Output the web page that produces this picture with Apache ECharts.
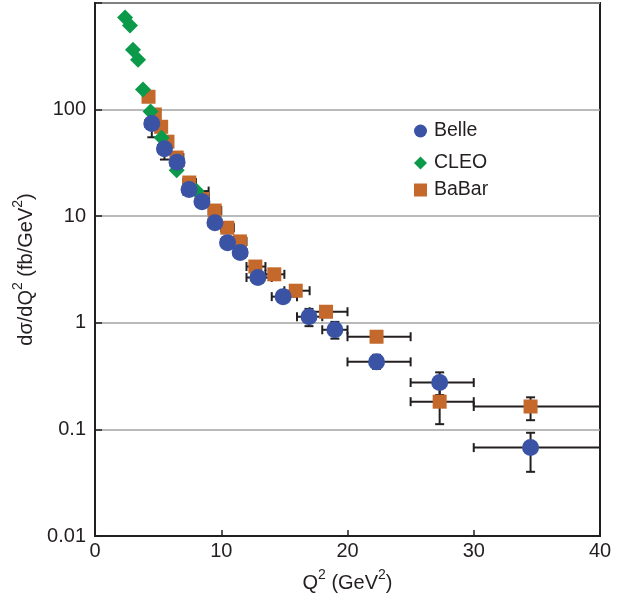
<!DOCTYPE html>
<html>
<head>
<meta charset="utf-8">
<script src="https://cdn.jsdelivr.net/npm/echarts@6/dist/echarts.min.js"></script>
<style>
html,body{margin:0;padding:0;background:#fff;}
#c{width:631px;height:605px;}
</style>
</head>
<body>
<div id="c"></div>
<script>
// ---- data ----
const xTickLabels = ['0', '10', '20', '30', '40'];
const yTickLabels = ['0.01', '0.1', '1', '10', '100', ''];

const belleX   = [4.5, 5.5, 6.5, 7.45, 8.47, 9.5, 10.5, 11.5, 12.9, 14.9, 16.95, 19.0, 22.3, 27.3, 34.5];
const belleY   = [74, 43, 32, 17.8, 13.7, 8.7, 5.65, 4.56, 2.66, 1.76, 1.14, 0.86, 0.43, 0.275, 0.0675];
const belleXLo = [4, 5, 6, 7, 8, 9, 10, 11, 12, 14, 16, 18, 20, 25, 30];
const belleXHi = [5, 6, 7, 8, 9, 10, 11, 12, 14, 16, 18, 20, 25, 30, 40];
const belleYLo = [55, 34, 28, 16, 12.4, 7.9, 5.1, 4.1, 2.4, 1.57, 0.93, 0.71, 0.37, 0.21, 0.040];
const belleYHi = [93, 52, 36, 19.8, 15, 9.6, 6.2, 5.0, 2.95, 1.97, 1.35, 1.02, 0.5, 0.343, 0.093];

const cleoX   = [2.38, 2.77, 3.01, 3.41, 3.80, 4.40, 5.28, 6.47, 8.05];
const cleoY   = [730, 614, 365, 294, 154, 96, 54.5, 27, 17.2];
const cleoXLo = [2.38, 2.77, 3.01, 3.41, 3.80, 4.40, 5.28, 6.47, 7];
const cleoXHi = [2.38, 2.77, 3.01, 3.41, 3.80, 4.40, 5.28, 6.47, 9];

const babarX   = [4.24, 4.74, 5.24, 5.74, 6.47, 7.47, 8.48, 9.48, 10.48, 11.48, 12.7, 14.2, 15.9, 18.3, 22.3, 27.3, 34.5];
const babarY   = [132, 90, 69, 50, 35.5, 20.7, 14.5, 11.3, 7.8, 5.8, 3.37, 2.85, 2.0, 1.27, 0.74, 0.182, 0.164];
const babarXLo = [4, 4.5, 5, 5.5, 6, 7, 8, 9, 10, 11, 12, 13.5, 15, 17, 20, 25, 30];
const babarXHi = [4.5, 5, 5.5, 6, 7, 8, 9, 10, 11, 12, 13.5, 15, 17, 20, 25, 30, 40];
const babarYLo = [123, 83, 64, 46, 33, 19, 13.4, 10.4, 7.1, 5.3, 3.05, 2.58, 1.8, 1.13, 0.66, 0.112, 0.122];
const babarYHi = [141, 97, 74, 54, 38.5, 22.4, 15.6, 12.2, 8.5, 6.3, 3.7, 3.12, 2.2, 1.41, 0.83, 0.245, 0.200];

// ---- build ----
const FONT = "'Liberation Sans', Arial, Helvetica, sans-serif";
const INK = '#231f20';
const BLUE = '#3a53a4';
const GREEN = '#0a9a4a';
const ORANGE = '#c4692b';

function pts(xs, ys) { return xs.map((x, i) => [x, ys[i]]); }
function errRows(xs, ys, xl, xh, yl, yh) {
  return xs.map((x, i) => [x, ys[i], xl ? xl[i] : x, xh ? xh[i] : x, yl ? yl[i] : ys[i], yh ? yh[i] : ys[i]]);
}

function renderErr(params, api) {
  const x = api.value(0), y = api.value(1);
  const xl = api.value(2), xh = api.value(3), yl = api.value(4), yh = api.value(5);
  const st = { stroke: INK, lineWidth: 2, fill: null };
  const cap = 4.5;
  const ch = [];
  const line = (x1, y1, x2, y2) => ch.push({ type: 'line', shape: { x1, y1, x2, y2 }, style: st });
  if (xl !== xh) {
    const a = api.coord([xl, y]), b = api.coord([xh, y]);
    line(a[0], a[1], b[0], b[1]);
    line(a[0], a[1] - cap, a[0], a[1] + cap);
    line(b[0], b[1] - cap, b[0], b[1] + cap);
  }
  if (yl !== yh) {
    const a = api.coord([x, yl]), b = api.coord([x, yh]);
    line(a[0], a[1], b[0], b[1]);
    line(a[0] - cap, a[1], a[0] + cap, a[1]);
    line(b[0] - cap, b[1], b[0] + cap, b[1]);
  }
  return { type: 'group', children: ch };
}

const chart = echarts.init(document.getElementById('c'), null, { renderer: 'canvas' });

const legendBase = {
  orient: 'horizontal', padding: 0, itemWidth: 13, itemHeight: 13, itemGap: 0,
  textStyle: { fontFamily: FONT, fontSize: 19.5, color: INK, padding: [0, 0, 0, 2] },
  selectedMode: false
};

const titleRich = {
  a: { fontFamily: FONT, fontSize: 20, color: INK, lineHeight: 25, verticalAlign: 'bottom' },
  s: { fontFamily: FONT, fontSize: 14, color: INK, lineHeight: 25, verticalAlign: 'top' }
};

const option = {
  backgroundColor: '#fff',
  animation: false,
  grid: {
    left: 95, top: 3, width: 505, height: 533,
    show: true, borderColor: INK, borderWidth: 2, backgroundColor: 'transparent',
    containLabel: false, outerBoundsMode: 'none'
  },
  legend: [
    Object.assign({}, legendBase, { data: ['Belle'], left: 414, top: 121 }),
    Object.assign({}, legendBase, { data: ['CLEO'], left: 414, top: 153 }),
    Object.assign({}, legendBase, { data: ['BaBar'], left: 414, top: 180 })
  ],
  xAxis: {
    type: 'value', min: 0, max: 40, interval: 10,
    axisLine: { show: true, onZero: false, lineStyle: { color: INK, width: 2 } },
    axisTick: { show: true, inside: true, length: 6, lineStyle: { color: INK, width: 1.5 } },
    splitLine: { show: false },
    axisLabel: {
      fontFamily: FONT, fontSize: 20, color: INK, margin: 5,
      formatter: v => xTickLabels[Math.round(v / 10)]
    },
    name: '{a|Q}{s|2}{a| (GeV}{s|2}{a|)}',
    nameLocation: 'middle', nameGap: 32,
    nameTextStyle: { fontFamily: FONT, color: INK, rich: titleRich }
  },
  yAxis: {
    type: 'log', logBase: 10, min: 0.01, max: 1000,
    axisLine: { show: true, onZero: false, lineStyle: { color: INK, width: 2 } },
    axisTick: { show: true, inside: true, length: 7, lineStyle: { color: INK, width: 1.5 } },
    minorTick: { show: false },
    splitLine: { show: true, lineStyle: { color: '#a3a3a3', width: 1.5 } },
    axisLabel: {
      fontFamily: FONT, fontSize: 20, color: INK, margin: 9,
      formatter: v => yTickLabels[Math.round(Math.log10(v)) + 2]
    },
    name: '{a|dσ/dQ}{s|2}{a| (fb/GeV}{s|2}{a|)}',
    nameLocation: 'middle', nameGap: 50, nameRotate: 90,
    nameTextStyle: { fontFamily: FONT, color: INK, rich: titleRich }
  },
  series: [
    {
      name: 'errBabar', type: 'custom', renderItem: renderErr, z: 1,
      data: errRows(babarX, babarY, babarXLo, babarXHi, babarYLo, babarYHi),
      encode: { x: [0, 2, 3], y: [1, 4, 5] }, silent: true
    },
    {
      name: 'errCleo', type: 'custom', renderItem: renderErr, z: 1,
      data: errRows(cleoX, cleoY, cleoXLo, cleoXHi, null, null),
      encode: { x: [0, 2, 3], y: [1, 4, 5] }, silent: true
    },
    {
      name: 'errBelle', type: 'custom', renderItem: renderErr, z: 1,
      data: errRows(belleX, belleY, belleXLo, belleXHi, belleYLo, belleYHi),
      encode: { x: [0, 2, 3], y: [1, 4, 5] }, silent: true
    },
    {
      name: 'BaBar', type: 'scatter', z: 2, symbol: 'rect', symbolSize: 14,
      itemStyle: { color: ORANGE, opacity: 1 },
      data: pts(babarX, babarY)
    },
    {
      name: 'CLEO', type: 'scatter', z: 3, symbol: 'diamond', symbolSize: 16,
      itemStyle: { color: GREEN, opacity: 1 },
      data: pts(cleoX, cleoY)
    },
    {
      name: 'Belle', type: 'scatter', z: 4, symbol: 'circle', symbolSize: 17,
      itemStyle: { color: BLUE, opacity: 1 },
      data: pts(belleX, belleY)
    }
  ]
};
chart.setOption(option);
</script>
</body>
</html>
